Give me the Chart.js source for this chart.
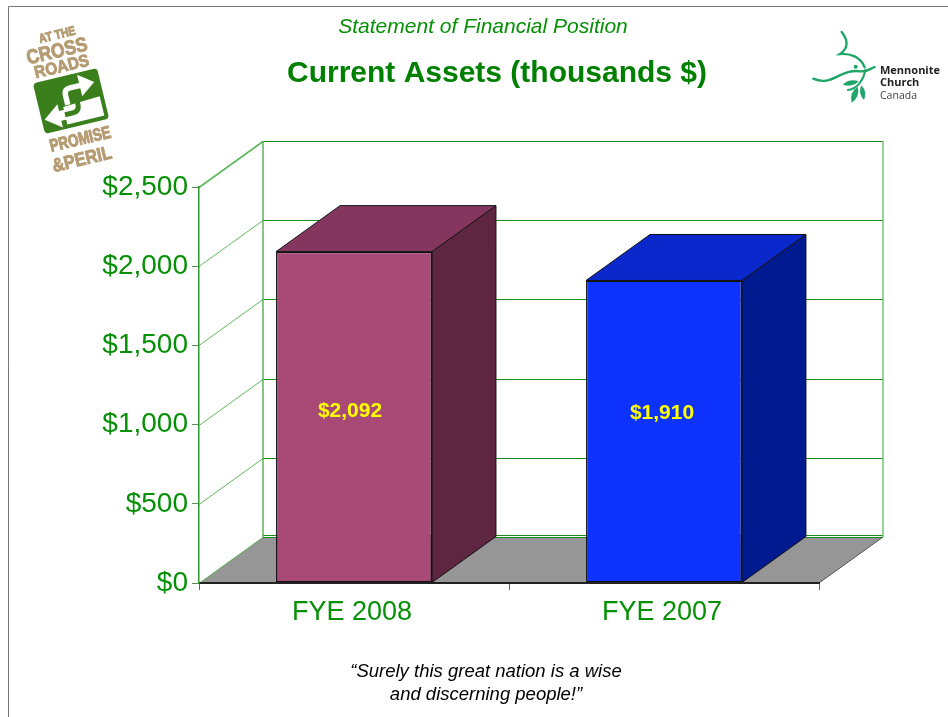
<!DOCTYPE html>
<html><head><meta charset="utf-8">
<style>html,body{margin:0;padding:0;background:#fff}canvas{display:block}</style>
<script src="https://cdn.jsdelivr.net/npm/chart.js@4"></script>
</head><body>
<canvas id="c" width="948" height="717"></canvas>
<script>
const categories = ['FYE 2008', 'FYE 2007'];
const currentAssets = [2092, 1910];
const valueLabels = ['$2,092', '$1,910'];
const yTicks = [0, 500, 1000, 1500, 2000, 2500];
const frontColors = ['#A94A76', '#0F33FF'];
const topColors = ['#85365F', '#0A28CC'];
const sideColors = ['#5F2642', '#021A8F'];
const chartSubtitle = 'Statement of Financial Position';
const chartTitle = 'Current Assets (thousands $)';
const footerLines = ['\u201CSurely this great nation is a wise', 'and discerning people!\u201D'];

const FONT = '"Liberation Sans", Arial, sans-serif';
const GREEN = '#069006';
const DX = 64, DY = -46;

function roundedRect(c, x, y, w, h, r) { c.beginPath(); c.roundRect(x, y, w, h, r); }

function drawCrossroads(c) {
  c.save();
  c.translate(71, 101);
  c.rotate(-13.5 * Math.PI / 180);
  c.fillStyle = '#B59B72';
  c.strokeStyle = '#B59B72';
  c.lineWidth = 0.8;
  c.textAlign = 'center'; c.textBaseline = 'middle';
  const t = (s, x, y, size, sy) => {
    c.save(); c.translate(x, y); c.scale(1, sy);
    c.font = 'bold ' + size + 'px ' + FONT;
    c.fillText(s, 0, 0); c.strokeText(s, 0, 0); c.restore();
  };
  t('AT THE', 2, -67, 10.5, 1.2);
  t('CROSS', -2, -51, 17.5, 1.15);
  t('ROADS', -1, -35, 15.5, 1.1);
  t('PROMISE', 0, 40, 13.5, 1.3);
  t('&PERIL', -3, 60, 16.5, 1.15);
  // sign
  c.fillStyle = '#3A7F1C';
  roundedRect(c, -33, -26, 66, 52, 4); c.fill();
  c.fillStyle = '#fff';
  c.beginPath();
  c.moveTo(-9, 4); c.lineTo(29, 2); c.lineTo(29, 22); c.lineTo(-9, 22); c.closePath(); c.fill();
  c.beginPath();
  c.moveTo(-30, 12); c.lineTo(-14, 0); c.lineTo(-14, 7); c.lineTo(-8, 7); c.lineTo(-8, 17);
  c.lineTo(-14, 17); c.lineTo(-14, 24); c.closePath(); c.fill();
  c.beginPath();
  c.moveTo(27, -13); c.lineTo(12, -24); c.lineTo(12, -2); c.closePath(); c.fill();
  c.strokeStyle = '#fff'; c.lineWidth = 5.5;
  c.beginPath(); c.moveTo(13, -13); c.lineTo(2, -13); c.quadraticCurveTo(-4, -13, -4, -7); c.lineTo(-4, 3); c.stroke();
  c.strokeStyle = '#3A7F1C'; c.lineWidth = 5;
  c.beginPath(); c.moveTo(-9, 12); c.lineTo(-1, 12); c.quadraticCurveTo(6, 12, 6, 5); c.lineTo(6, -1); c.stroke();
  c.restore();
}

function drawMennonite(c) {
  c.save();
  c.translate(790, 10); c.scale(1 / 3, 1 / 3);
  const col = '#1FA669';
  c.strokeStyle = col; c.fillStyle = col; c.lineWidth = 7; c.lineCap = 'round';
  c.beginPath(); c.moveTo(155, 66); c.bezierCurveTo(178, 95, 172, 118, 150, 132);
  c.bezierCurveTo(180, 130, 212, 140, 224, 172); c.stroke();
  c.beginPath(); c.moveTo(70, 206); c.bezierCurveTo(125, 232, 150, 175, 212, 184);
  c.bezierCurveTo(232, 186, 240, 176, 254, 171); c.stroke();
  c.beginPath(); c.arc(197, 170, 6, 0, 7); c.fill();
  c.lineWidth = 6;
  c.beginPath(); c.moveTo(226, 180); c.bezierCurveTo(222, 205, 205, 236, 174, 240); c.stroke();
  const leaf = (x0, y0, x1, y1, w) => {
    const mx = (x0 + x1) / 2, my = (y0 + y1) / 2, nx = -(y1 - y0), ny = x1 - x0, l = Math.hypot(nx, ny);
    c.beginPath(); c.moveTo(x0, y0);
    c.quadraticCurveTo(mx + nx / l * w, my + ny / l * w, x1, y1);
    c.quadraticCurveTo(mx - nx / l * w, my - ny / l * w, x0, y0); c.fill();
  };
  leaf(158, 224, 206, 214, 15);
  leaf(203, 230, 185, 278, 18);
  leaf(214, 226, 222, 270, 15);
  c.restore();
  c.fillStyle = '#222'; c.textAlign = 'left'; c.textBaseline = 'alphabetic';
  c.font = 'bold 11px "Open Sans", ' + FONT;
  c.fillText('Mennonite', 880, 73.5);
  c.fillText('Church', 880, 86);
  c.font = '10.5px "Open Sans", ' + FONT; c.fillStyle = '#444';
  c.fillText('Canada', 880, 98.5);
}

const scenePlugin = {
  id: 'scene',
  beforeDatasetsDraw(chart) {
    const c = chart.ctx, y = chart.scales.y, a = chart.chartArea;
    const y0 = y.getPixelForValue(0), yTop = y.getPixelForValue(yTicks[yTicks.length - 1]);
    c.save();
    // floor
    c.fillStyle = '#969696'; c.strokeStyle = '#555'; c.lineWidth = 1;
    c.beginPath(); c.moveTo(a.left, y0); c.lineTo(a.left + DX, y0 + DY);
    c.lineTo(a.right + DX, y0 + DY); c.lineTo(a.right, y0); c.closePath(); c.fill();
    c.beginPath(); c.moveTo(a.right, y0); c.lineTo(a.right + DX, y0 + DY); c.stroke();
    // back wall grid and side wall diagonals
    yTicks.forEach(v => {
      const p = Math.round(y.getPixelForValue(v)) + 0.5;
      c.strokeStyle = '#1A8A1A'; c.lineWidth = 1;
      c.beginPath(); c.moveTo(a.left + DX, p + DY); c.lineTo(a.right + DX, p + DY); c.stroke();
      c.strokeStyle = '#5DB85D';
      c.lineWidth = v === yTicks[yTicks.length - 1] ? 1.6 : 1;
      c.beginPath(); c.moveTo(a.left, p); c.lineTo(a.left + DX, p + DY); c.stroke();
    });
    c.strokeStyle = '#1A8A1A'; c.lineWidth = 1;
    c.beginPath(); c.moveTo(a.left + DX, y0 + DY - 1.5); c.lineTo(a.right + DX, y0 + DY - 1.5); c.stroke();
    c.strokeStyle = '#4DB04D'; c.lineWidth = 1.4;
    c.beginPath(); c.moveTo(a.left + DX, yTop + DY); c.lineTo(a.left + DX, y0 + DY); c.stroke();
    c.strokeStyle = '#6CC06C';
    c.beginPath(); c.moveTo(a.right + DX, yTop + DY); c.lineTo(a.right + DX, y0 + DY); c.stroke();
    // bar top and side faces
    chart.getDatasetMeta(0).data.forEach((bar, i) => {
      const l = bar.x - bar.width / 2, r = bar.x + bar.width / 2, t = bar.y, b = bar.base;
      c.strokeStyle = '#111'; c.lineWidth = 1; c.lineJoin = 'miter';
      c.fillStyle = sideColors[i];
      c.beginPath(); c.moveTo(r, t); c.lineTo(r + DX, t + DY); c.lineTo(r + DX, b + DY); c.lineTo(r, b); c.closePath(); c.fill(); c.stroke();
      c.fillStyle = topColors[i];
      c.beginPath(); c.moveTo(l, t); c.lineTo(l + DX, t + DY); c.lineTo(r + DX, t + DY); c.lineTo(r, t); c.closePath(); c.fill(); c.stroke();
    });
    c.restore();
  },
  afterDraw(chart) {
    const c = chart.ctx;
    c.save();
    // slide frame
    c.strokeStyle = '#777'; c.lineWidth = 1;
    c.beginPath(); c.moveTo(8.5, 717); c.lineTo(8.5, 6.5); c.lineTo(948, 6.5); c.stroke();
    // slide texts
    c.textAlign = 'center'; c.textBaseline = 'middle';
    c.fillStyle = GREEN;
    c.font = 'italic 21px ' + FONT; c.fillText(chartSubtitle, 483, 27);
    c.fillStyle = '#008000';
    c.font = 'bold 30px ' + FONT; c.fillText(chartTitle, 497, 74);
    c.fillStyle = '#000';
    c.font = 'italic 18.5px ' + FONT;
    c.fillText(footerLines[0], 486, 672);
    c.fillText(footerLines[1], 486, 695);
    // value labels
    c.fillStyle = '#FFFF00';
    c.font = 'bold 21px ' + FONT;
    const labelY = [411, 413];
    const labelX = [-4, -2];
    chart.getDatasetMeta(0).data.forEach((bar, i) => {
      c.fillText(valueLabels[i], bar.x + labelX[i], labelY[i]);
    });
    drawCrossroads(c);
    drawMennonite(c);
    c.restore();
  }
};

new Chart(document.getElementById('c'), {
  type: 'bar',
  data: {
    labels: categories,
    datasets: [{
      data: currentAssets,
      backgroundColor: frontColors,
      borderColor: '#111',
      borderWidth: 1.5,
      borderSkipped: false,
      barPercentage: 0.503,
      categoryPercentage: 1
    }]
  },
  plugins: [scenePlugin],
  options: {
    responsive: false,
    animation: false,
    devicePixelRatio: 1,
    layout: { padding: { top: 187, right: 129, left: 0, bottom: 0 } },
    plugins: { legend: { display: false }, tooltip: { enabled: false }, title: { display: false } },
    scales: {
      x: {
        afterFit(s) { s.height = 134; },
        grid: { drawOnChartArea: false, tickLength: 7, color: '#666', offset: true },
        border: { color: '#222', width: 2, z: 1 },
        ticks: { color: GREEN, font: { family: FONT, size: 27 }, padding: 6, maxRotation: 0, labelOffset: -2 }
      },
      y: {
        min: 0, max: 2500,
        afterFit(s) { s.width = 199; },
        afterBuildTicks(s) { s.ticks = yTicks.map(v => ({ value: v })); },
        grid: { drawOnChartArea: false, tickLength: 7, color: '#5f8f5f' },
        border: { color: '#2E9A2E', width: 1.5, z: 1 },
        ticks: {
          color: GREEN, font: { family: FONT, size: 28 }, padding: 4,
          callback: v => '$' + v.toLocaleString('en-US')
        }
      }
    }
  }
});
</script>
</body></html>
